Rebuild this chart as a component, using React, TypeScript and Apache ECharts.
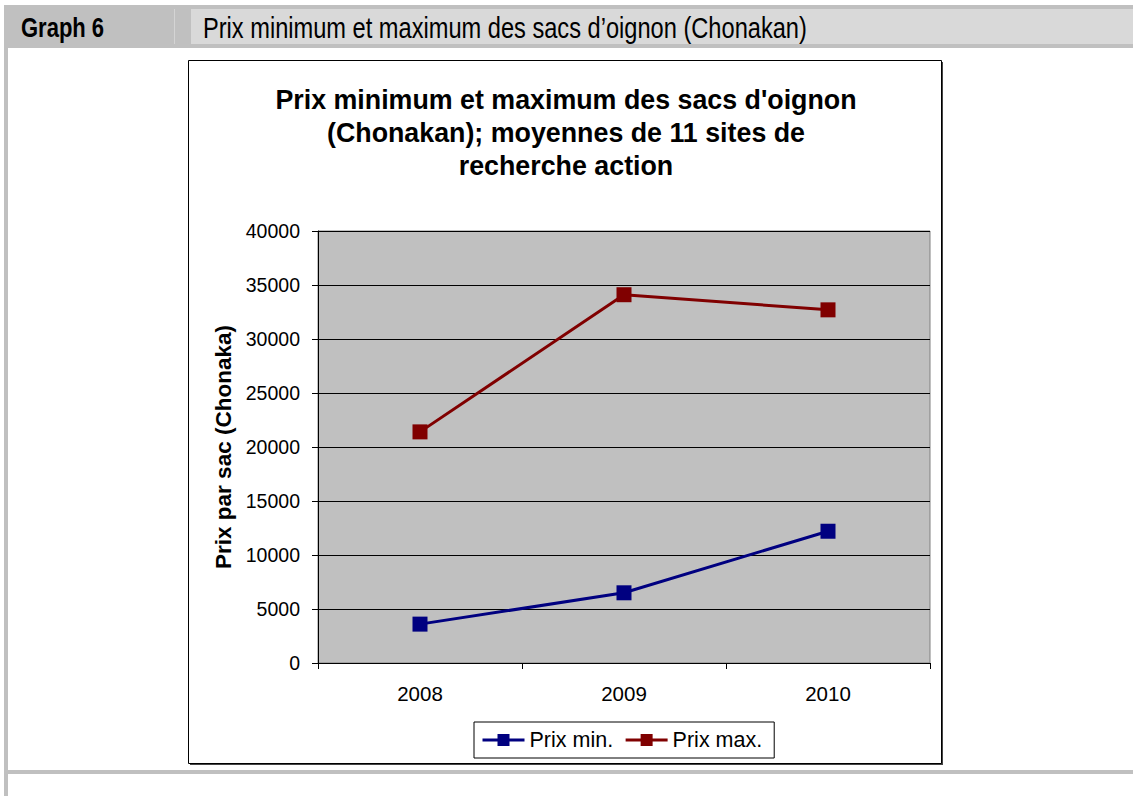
import React, { useEffect, useRef } from "react";
import * as echarts from "echarts";

const categories = ["2008", "2009", "2010"];
const prixMin = [3600, 6500, 12200];
const prixMax = [21400, 34100, 32700];
const seriesNames = ["Prix min.", "Prix max."];
const chartTitle = "Prix minimum et maximum des sacs d'oignon\n(Chonakan); moyennes de 11 sites de\nrecherche action";
const yAxisName = "Prix par sac (Chonaka)";
const headerLabel = "Graph 6";
const headerTitle = "Prix minimum et maximum des sacs d’oignon (Chonakan)";

const arial = "'Liberation Sans', Arial, sans-serif";

export default function App() {
  const ref = useRef<HTMLDivElement>(null);
  useEffect(() => {
    if (!ref.current) return;
    const chart = echarts.init(ref.current, null, { renderer: "svg" });
    chart.setOption({
      animation: false,
      backgroundColor: "#ffffff",
      graphic: [
        { type: "rect", z: -10, shape: { x: 4, y: 5, width: 1129, height: 43 }, style: { fill: "#c0c0c0" } },
        { type: "rect", z: -9, shape: { x: 191, y: 9, width: 942, height: 35 }, style: { fill: "#d9d9d9" } },
        { type: "line", z: -9, shape: { x1: 174.5, y1: 9, x2: 174.5, y2: 44 }, style: { stroke: "#d4d4d4", lineWidth: 1 } },
        { type: "rect", z: -10, shape: { x: 4, y: 48, width: 4, height: 748 }, style: { fill: "#c0c0c0" } },
        { type: "rect", z: -10, shape: { x: 8, y: 770, width: 1125, height: 4 }, style: { fill: "#c0c0c0" } },
        {
          type: "text", z: -8, x: 21, y: 28, scaleX: 0.815,
          style: { text: headerLabel, fontFamily: arial, fontWeight: "bold", fontSize: 27, fill: "#000", verticalAlign: "middle" },
        },
        {
          type: "text", z: -8, x: 203, y: 28, scaleX: 0.815,
          style: { text: headerTitle, fontFamily: arial, fontSize: 29, fill: "#000", verticalAlign: "middle" },
        },
        { type: "rect", z: -7, shape: { x: 190, y: 62, width: 753, height: 703 }, style: { fill: "#444" } },
        { type: "rect", z: -6, shape: { x: 188.5, y: 60.5, width: 753, height: 703 }, style: { fill: "#fff", stroke: "#000", lineWidth: 1 } },
      ],
      title: {
        text: chartTitle,
        left: 566,
        top: 83,
        padding: 0,
        textAlign: "center",
        textStyle: { fontFamily: arial, fontWeight: "bold", fontSize: 26.8, lineHeight: 33, color: "#000" },
      },
      legend: {
        data: seriesNames,
        left: 474,
        top: 722,
        orient: "horizontal",
        itemWidth: 42,
        itemHeight: 15,
        itemGap: 11,
        padding: [7, 12, 7, 7],
        borderColor: "#000",
        borderWidth: 1,
        backgroundColor: "#fff",
        lineStyle: { width: 3 },
        textStyle: { fontFamily: arial, fontSize: 21.5, color: "#000" },
      },
      grid: {
        left: 318,
        top: 231,
        width: 612,
        height: 432,
        show: true,
        backgroundColor: "#c0c0c0",
        borderColor: "#808080",
        borderWidth: 1,
        containLabel: false,
      },
      xAxis: {
        type: "category",
        data: categories,
        boundaryGap: true,
        axisLine: { lineStyle: { color: "#000", width: 1 } },
        axisTick: { show: true, length: 6, alignWithLabel: false, lineStyle: { color: "#000" } },
        axisLabel: { fontFamily: arial, fontSize: 20.5, color: "#000", margin: 20 },
        splitLine: { show: false },
      },
      yAxis: {
        type: "value",
        min: 0,
        max: 40000,
        interval: 5000,
        name: yAxisName,
        nameLocation: "middle",
        nameGap: 82,
        nameRotate: 90,
        nameTextStyle: { fontFamily: arial, fontWeight: "bold", fontSize: 22.5, color: "#000" },
        axisLine: { show: true, lineStyle: { color: "#000", width: 1 } },
        axisTick: { show: true, length: 6, lineStyle: { color: "#000" } },
        axisLabel: { fontFamily: arial, fontSize: 19.5, color: "#000", margin: 18, formatter: (v: number) => String(v) },
        splitLine: { show: true, lineStyle: { color: "#000", width: 1 } },
      },
      series: [
        {
          name: seriesNames[0],
          type: "line",
          data: prixMin,
          color: "#000080",
          lineStyle: { width: 3, color: "#000080" },
          symbol: "rect",
          symbolSize: 15,
          itemStyle: { color: "#000080" },
        },
        {
          name: seriesNames[1],
          type: "line",
          data: prixMax,
          color: "#800000",
          lineStyle: { width: 3, color: "#800000" },
          symbol: "rect",
          symbolSize: 15,
          itemStyle: { color: "#800000" },
        },
      ],
    });
    return () => chart.dispose();
  }, []);
  return <div ref={ref} style={{ position: "fixed", left: 0, top: 0, width: 1133, height: 796 }} />;
}
